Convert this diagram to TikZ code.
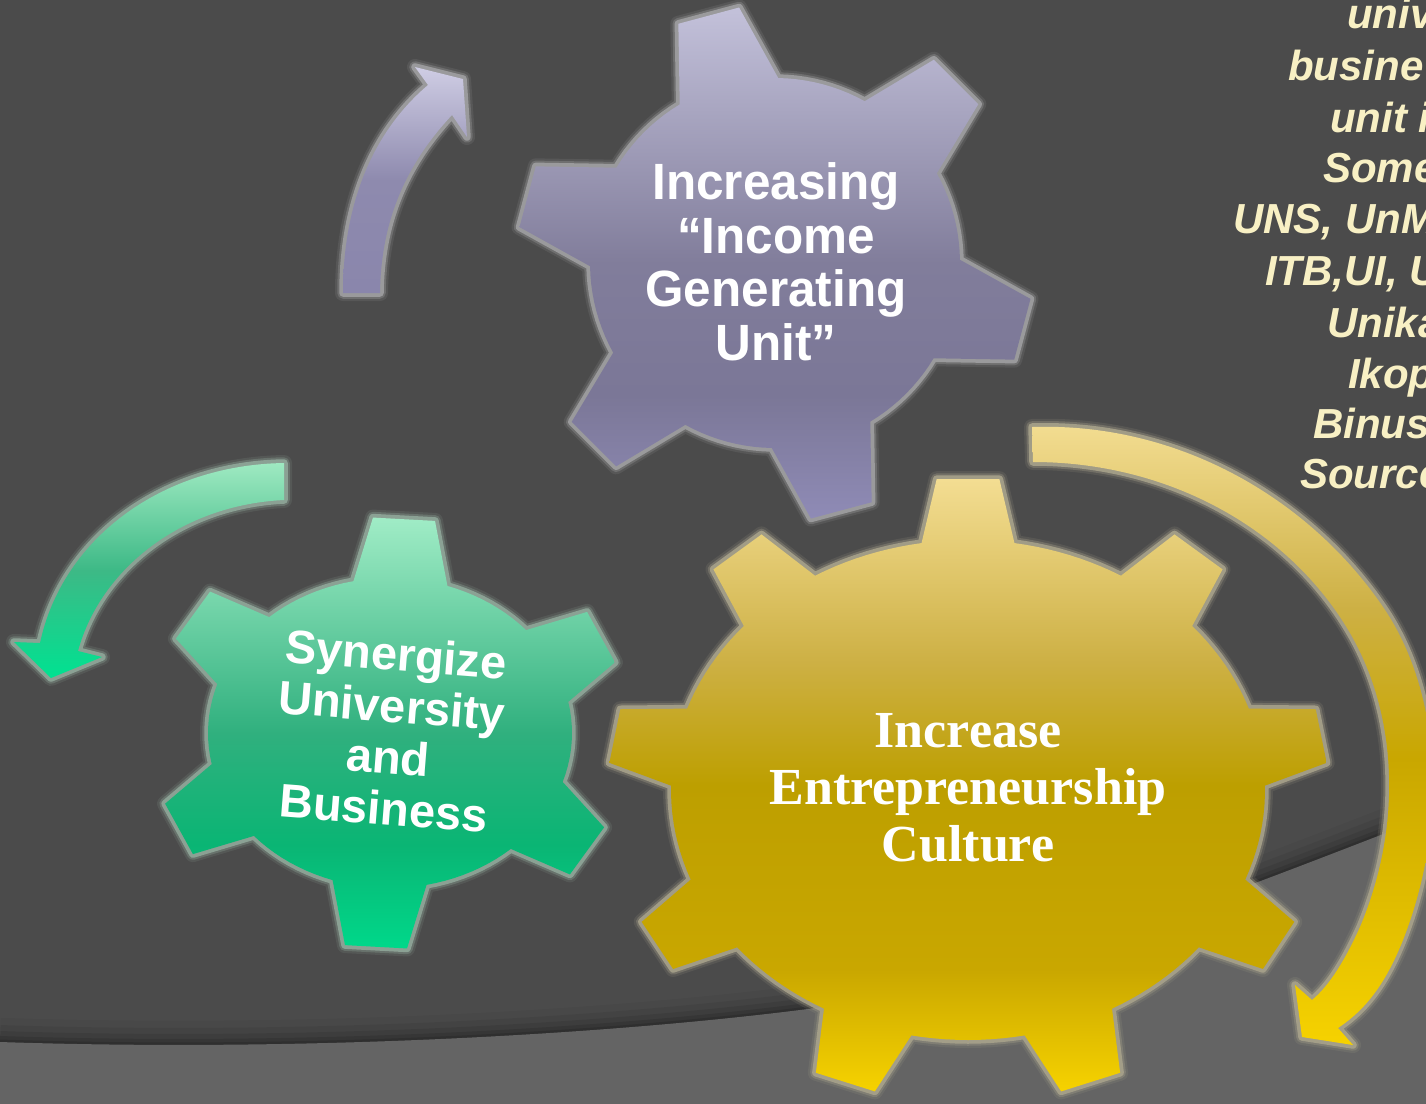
\documentclass[tikz,border=0pt]{standalone}
\usepackage{fontspec}
\newfontfamily\sansP[FakeStretch=0.97]{Liberation Sans}
\newfontfamily\sansG{Liberation Sans}
\newfontfamily\serifY{Liberation Serif}
\newfontfamily\sansN{Liberation Sans}
\definecolor{bgdark}{HTML}{4B4B4B}
\definecolor{bglight}{HTML}{646464}
\definecolor{notecol}{HTML}{F8F0C4}
\definecolor{pu0}{HTML}{8F8BB6}
\definecolor{pu1}{HTML}{7B7797}
\definecolor{pu2}{HTML}{817D9B}
\definecolor{pu3}{HTML}{C3C1DA}
\definecolor{gr0}{HTML}{00D88A}
\definecolor{gr1}{HTML}{0AB574}
\definecolor{gr2}{HTML}{30B07E}
\definecolor{gr3}{HTML}{A0ECC6}
\definecolor{ye0}{HTML}{F6D200}
\definecolor{ye1}{HTML}{C9A700}
\definecolor{ye2}{HTML}{BD9F00}
\definecolor{ye3}{HTML}{CDB044}
\definecolor{ye4}{HTML}{F3DD92}
\definecolor{ap0}{HTML}{8A86AC}
\definecolor{ap1}{HTML}{8E8AAE}
\definecolor{ap2}{HTML}{CFCDE4}
\definecolor{ag0}{HTML}{00E291}
\definecolor{ag1}{HTML}{3DB986}
\definecolor{ag2}{HTML}{9EE9C1}
\definecolor{haloP}{HTML}{A2A2A4}
\definecolor{haloG}{HTML}{92AA9C}
\definecolor{haloY}{HTML}{AAA48C}
\pgfdeclareverticalshading{shP}{100bp}{color(0bp)=(pu0); color(25bp)=(pu0); color(37bp)=(pu1); color(50bp)=(pu2); color(75bp)=(pu3); color(100bp)=(pu3)}
\pgfdeclareverticalshading{shG}{100bp}{color(0bp)=(gr0); color(25bp)=(gr0); color(37bp)=(gr1); color(50bp)=(gr2); color(75bp)=(gr3); color(100bp)=(gr3)}
\pgfdeclareverticalshading{shY}{100bp}{color(0bp)=(ye0); color(25bp)=(ye0); color(35bp)=(ye1); color(50bp)=(ye2); color(60bp)=(ye3); color(75bp)=(ye4); color(100bp)=(ye4)}
\pgfdeclareverticalshading{shAP}{100bp}{color(0bp)=(ap0); color(25bp)=(ap0); color(50bp)=(ap1); color(75bp)=(ap2); color(100bp)=(ap2)}
\pgfdeclareverticalshading{shAG}{100bp}{color(0bp)=(ag0); color(25bp)=(ag0); color(50bp)=(ag1); color(75bp)=(ag2); color(100bp)=(ag2)}
\pgfdeclareverticalshading{shAY}{100bp}{color(0bp)=(ye0); color(25bp)=(ye0); color(48bp)=(ye1); color(60bp)=(ye3); color(75bp)=(ye4); color(100bp)=(ye4)}
\tikzset{
  glow/.style={preaction={draw=#1, line width=16pt, draw opacity=0.14, line join=round},
               preaction={draw=#1, line width=11.5pt, draw opacity=0.32, line join=round},
               preaction={draw=#1, line width=7.5pt, draw opacity=0.85, line join=round}},
  gearP/.style={glow=haloP, shade, shading=shP},
  gearG/.style={glow=haloG, shade, shading=shG},
  gearY/.style={glow=haloY, shade, shading=shY},
  arrP/.style={glow=haloP, shade, shading=shAP},
  arrG/.style={glow=haloG, shade, shading=shAG},
  arrY/.style={glow=haloY, shade, shading=shAY},
  txtP/.style={text=white, align=center, inner sep=0pt, font=\sansP\bfseries\fontsize{51}{53.5}\selectfont},
  txtG/.style={text=white, align=center, inner sep=0pt, font=\sansG\bfseries\fontsize{47}{51.5}\selectfont},
  txtY/.style={text=white, align=center, inner sep=0pt, font=\serifY\bfseries\fontsize{52}{57}\selectfont},
  note/.style={text=notecol, anchor=base west, inner sep=0pt, font=\sansN\bfseries\itshape\fontsize{42}{51}\selectfont}
}
\newcommand\drawgear[1]{%
  \pgfmathtruncatemacro\glast{\gn-1}%
  \pgfmathsetmacro\gst{360/\gn}%
  \pgfmathsetmacro\garc{(\gst-2*\ghb)/10}%
  \path[#1] ({\gcx+\grix*cos(\gph-\ghb)},{\gcy-\griy*sin(\gph-\ghb)})
   \foreach \i in {0,...,\glast}{
    -- ({\gcx+\grox*cos(\gph+\i*\gst-\ght)},{\gcy-\groy*sin(\gph+\i*\gst-\ght)})
    -- ({\gcx+\grox*cos(\gph+\i*\gst+\ght)},{\gcy-\groy*sin(\gph+\i*\gst+\ght)})
    -- ({\gcx+\grix*cos(\gph+\i*\gst+\ghb)},{\gcy-\griy*sin(\gph+\i*\gst+\ghb)})
    \foreach \j in {1,...,10}{
      -- ({\gcx+\grix*cos(\gph+\i*\gst+\ghb+\j*\garc)},{\gcy-\griy*sin(\gph+\i*\gst+\ghb+\j*\garc)})
    }
   } -- cycle;%
}
\begin{document}
\begin{tikzpicture}[x=1pt,y=-1pt]
\useasboundingbox (0,0) rectangle (1426,1103);
\clip (0,0) rectangle (1426,1103);
% background
\fill[bgdark] (0,0) rectangle (1426,1103);
\foreach \w/\o in {48/0.04, 34/0.06, 22/0.08, 12/0.1, 5/0.12}{
  \draw[line width=\w pt, black, opacity=\o]
    (0,1042) .. controls (300,1052) and (600,1035) .. (800,1010)
    .. controls (1000,985) and (1200,905) .. (1440,812);
}
\fill[bglight] (0,1042) .. controls (300,1052) and (600,1035) .. (800,1010)
    .. controls (1000,985) and (1200,905) .. (1440,812) -- (1440,1110) -- (0,1110) -- cycle;

% purple gear
\def\gcx{775}\def\gcy{263}\def\gn{6}\def\gph{105}
\def\grix{185}\def\griy{185}\def\grox{258}\def\groy{258}\def\ghb{16}\def\ght{7}
\drawgear{gearP}
% green gear
\def\gcx{390}\def\gcy{733}\def\gn{6}\def\gph{86.6}
\def\grix{182}\def\griy{155}\def\grox{238}\def\groy{216}\def\ghb{15}\def\ght{7.5}
\drawgear{gearG}
% yellow gear
\def\gcx{968}\def\gcy{790}\def\gn{9}\def\gph{90}
\def\grix{297}\def\griy{250}\def\grox{360}\def\groy{312}\def\ghb{9}\def\ght{5}
\drawgear{gearY}

% curved arrows
\path[arrP] (343,293) .. controls (343,200) and (375,130) .. (428,85)
  -- (415,67) -- (463,79) -- (467,137) -- (452,115)
  .. controls (410,160) and (381,215) .. (380,293) -- cycle;
\path[arrG] (284,463) .. controls (160,465) and (62,540) .. (40,643)
  -- (14,642) -- (51,678) -- (102,657) -- (78,651)
  .. controls (100,570) and (180,505) .. (284,500) -- cycle;
\path[arrY] (1032,427) .. controls (1180,422) and (1310,500) .. (1383,607)
  .. controls (1440,690) and (1450,820) .. (1403,940)
  .. controls (1385,985) and (1365,1010) .. (1338,1028)
  -- (1353,1045) -- (1302,1037) -- (1295,985) -- (1312,1000)
  .. controls (1330,985) and (1345,960) .. (1360,927)
  .. controls (1405,820) and (1395,710) .. (1350,633)
  .. controls (1290,530) and (1170,462) .. (1033,462) -- cycle;

% gear texts
\node[txtP] (tp) at (776,262) {Increasing\\“Income\\Generating\\Unit”};
\node[txtG, rotate=-4.5] (tg) at (390,731) {Synergize\\University\\and\\Business};
\node[txtY] (ty) at (968,788) {Increase\\Entrepreneurship\\Culture};

% side note (cut by the right edge)
\node[note] (n1) at (1347,28) {univ};
\node[note] (n2) at (1288,80) {busine};
\node[note] (n3) at (1330,132) {unit i};
\node[note] (n4) at (1323,182) {Some};
\node[note] (n5) at (1233,233) {UNS, UnM};
\node[note] (n6) at (1265,285) {ITB,UI, U};
\node[note] (n7) at (1327,337) {Unika};
\node[note] (n8) at (1348,388) {Ikop};
\node[note] (n9) at (1313,438) {Binus};
\node[note] (n10) at (1300,488) {Source};
\end{tikzpicture}
\end{document}
